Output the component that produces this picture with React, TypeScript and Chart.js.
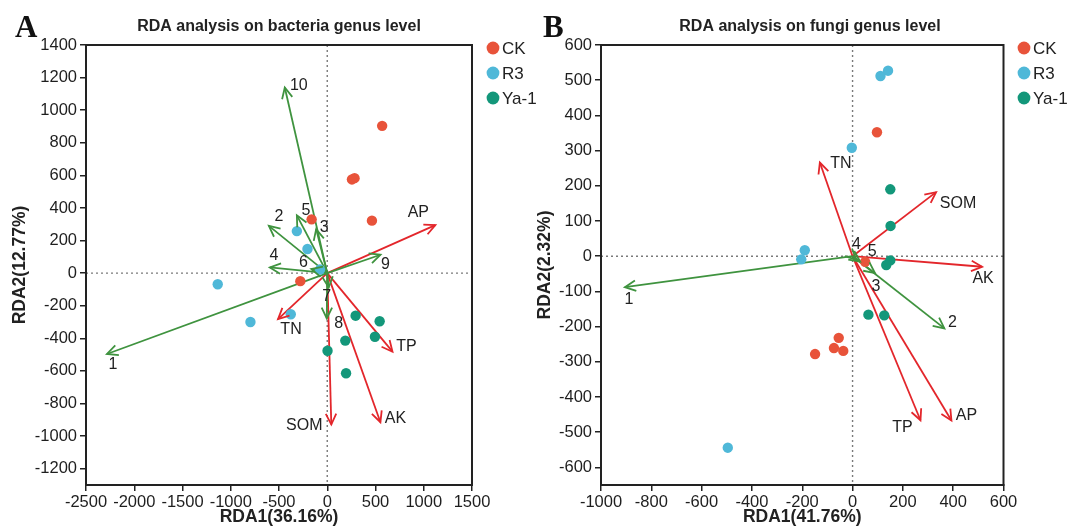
import React, { useEffect, useRef } from "react";
import { Chart, registerables } from "chart.js";
Chart.register(...registerables);

const FONT = "'Liberation Sans', Arial, Helvetica, sans-serif";
Chart.defaults.font.family = FONT;

// ---------- shared ----------
const groupNames = ["CK", "R3", "Ya-1"];
const groupColors = ["#E8533A", "#4FB8D8", "#13977A"];
const envColor = "#E3262B";
const genusColor = "#3F933F";

// ---------- Panel A : bacteria genus level ----------
const bacCK_RDA1 = [569, 283, 256, 463, -162, -279];
const bacCK_RDA2 = [904, 583, 575, 322, 330, -49];
const bacR3_RDA1 = [-315, -205, -75, -1135, -796, -378];
const bacR3_RDA2 = [258, 148, 22, -68, -300, -252];
const bacYa_RDA1 = [294, 543, 494, 187, 3, 195];
const bacYa_RDA2 = [-261, -295, -390, -414, -476, -614];

const bacEnvNames = ["AP", "TN", "TP", "AK", "SOM"];
const bacEnvRDA1 = [1120, -510, 676, 551, 42];
const bacEnvRDA2 = [295, -282, -482, -915, -929];

const bacGenusNames = ["1", "2", "3", "4", "5", "6", "7", "8", "9", "10"];
const bacGenusRDA1 = [-2283, -605, -115, -595, -315, -165, 15, -5, 552, -440];
const bacGenusRDA2 = [-496, 290, 270, 35, 355, 25, -88, -278, 113, 1139];

const bacXTicks = [-2500, -2000, -1500, -1000, -500, 0, 500, 1000, 1500];
const bacYTicks = [-1200, -1000, -800, -600, -400, -200, 0, 200, 400, 600, 800, 1000, 1200, 1400];

// label placement (pixels from arrow tip)
const bacEnvLabelOffsets = [[-17, -12], [13, 10], [14, -5], [15, -4], [-27, 1]];
const bacGenusLabelOffsets = [[6, 11], [10, -9], [8, -2], [4, -12], [9, -5], [-8, -6], [-2, 9], [12, 5], [5, 10], [14, -2]];

// ---------- Panel B : fungi genus level ----------
const funCK_RDA1 = [97, 50, -149, -74, -55, -37];
const funCK_RDA2 = [352, -16, -278, -261, -232, -269];
const funR3_RDA1 = [111, 141, -3, -190, -204, -496];
const funR3_RDA2 = [512, 527, 308, 17, -9, -544];
const funYa_RDA1 = [150, 151, 150, 134, 63, 126];
const funYa_RDA2 = [190, 86, -12, -25, -166, -168];

const funEnvNames = ["TN", "SOM", "AK", "TP", "AP"];
const funEnvRDA1 = [-130, 332, 515, 270, 393];
const funEnvRDA2 = [266, 182, -30, -466, -467];

const funGenusNames = ["1", "2", "3", "4", "5"];
const funGenusRDA1 = [-905, 365, 89, 15, 30];
const funGenusRDA2 = [-88, -205, -48, -10, -15];

const funXTicks = [-1000, -800, -600, -400, -200, 0, 200, 400, 600];
const funYTicks = [-600, -500, -400, -300, -200, -100, 0, 100, 200, 300, 400, 500, 600];

const funEnvLabelOffsets = [[21, 1], [22, 11], [1, 12], [-18, 7], [15, -5]];
const funGenusLabelOffsets = [[4, 12], [8, -6], [1, 13], [0, -15], [12, -10]];

// ---------- plugin ----------
const rdaDecor = {
  id: "rdaDecor",
  beforeDatasetsDraw(chart: any) {
    const { ctx, chartArea: ca, scales } = chart;
    const x0 = scales.x.getPixelForValue(0);
    const y0 = scales.y.getPixelForValue(0);
    ctx.save();
    ctx.strokeStyle = "#7a7a7a";
    ctx.lineWidth = 1.4;
    ctx.setLineDash([2, 3]);
    ctx.beginPath();
    ctx.moveTo(x0, ca.top);
    ctx.lineTo(x0, ca.bottom);
    ctx.moveTo(ca.left, y0);
    ctx.lineTo(ca.right, y0);
    ctx.stroke();
    ctx.restore();
  },
  afterDatasetsDraw(chart: any) {
    const { ctx } = chart;
    ctx.save();
    chart.data.datasets.forEach((ds: any, i: number) => {
      if (!ds.isArrow) return;
      const meta = chart.getDatasetMeta(i);
      const p0 = meta.data[0];
      const p1 = meta.data[1];
      const ang = Math.atan2(p1.y - p0.y, p1.x - p0.x);
      const L = 12;
      const a = 0.45;
      ctx.strokeStyle = ds.borderColor;
      ctx.lineWidth = 1.8;
      ctx.setLineDash([]);
      ctx.beginPath();
      ctx.moveTo(p1.x - L * Math.cos(ang - a), p1.y - L * Math.sin(ang - a));
      ctx.lineTo(p1.x, p1.y);
      ctx.lineTo(p1.x - L * Math.cos(ang + a), p1.y - L * Math.sin(ang + a));
      ctx.stroke();
      ctx.fillStyle = "#222";
      ctx.font = `16px ${FONT}`;
      ctx.textAlign = "center";
      ctx.textBaseline = "middle";
      ctx.fillText(ds.label, p1.x + ds.labelOffset[0], p1.y + ds.labelOffset[1]);
    });
    ctx.restore();
  },
  afterDraw(chart: any, _a: any, o: any) {
    const { ctx, chartArea: ca } = chart;
    ctx.save();
    ctx.strokeStyle = "#222";
    ctx.lineWidth = 2;
    ctx.strokeRect(ca.left, ca.top, ca.right - ca.left, ca.bottom - ca.top);
    // panel letter
    ctx.fillStyle = "#111";
    ctx.font = `bold 31px 'Liberation Serif', 'Times New Roman', serif`;
    ctx.textAlign = "left";
    ctx.textBaseline = "alphabetic";
    ctx.fillText(o.letter, o.letterX, 37);
    // title
    ctx.font = `bold 16px ${FONT}`;
    ctx.textAlign = "center";
    ctx.textBaseline = "middle";
    ctx.fillStyle = "#222";
    ctx.fillText(o.title, o.titleX, 27);
    // legend
    groupNames.forEach((g, i) => {
      const cy = 48 + i * 25;
      ctx.fillStyle = groupColors[i];
      ctx.beginPath();
      ctx.arc(o.legendX, cy, 6.4, 0, Math.PI * 2);
      ctx.fill();
      ctx.fillStyle = "#222";
      ctx.font = `17px ${FONT}`;
      ctx.textAlign = "left";
      ctx.fillText(g, o.legendX + 9, cy + 1);
    });
    ctx.restore();
  },
};

function pts(xs: number[], ys: number[]) {
  return xs.map((x, i) => ({ x, y: ys[i] }));
}

function buildConfig(p: any) {
  const pointSets = p.groups.map((g: any, i: number) => ({
    label: groupNames[i],
    data: pts(g[0], g[1]),
    backgroundColor: groupColors[i],
    borderWidth: 0,
    pointRadius: 5.2,
    pointHoverRadius: 5.2,
    showLine: false,
  }));
  const arrows = (names: string[], xs: number[], ys: number[], offs: number[][], color: string) =>
    names.map((n, i) => ({
      label: n,
      data: [{ x: 0, y: 0 }, { x: xs[i], y: ys[i] }],
      showLine: true,
      borderColor: color,
      borderWidth: 1.8,
      pointRadius: 0,
      isArrow: true,
      labelOffset: offs[i],
    }));
  const envSets = arrows(p.envNames, p.envX, p.envY, p.envOff, envColor);
  const genusSets = arrows(p.genusNames, p.genusX, p.genusY, p.genusOff, genusColor);

  const tickFont = { family: FONT, size: 16.5 };
  const gridCommon = {
    drawOnChartArea: false,
    drawTicks: true,
    tickLength: 6,
    color: "#222",
    lineWidth: 1.5,
  };
  const titleFont = { family: FONT, size: 17.5, weight: "bold" };
  return {
    type: "scatter",
    data: { datasets: [...pointSets, ...genusSets, ...envSets] },
    plugins: [rdaDecor],
    options: {
      responsive: false,
      animation: false,
      events: [],
      layout: { padding: { left: 0, right: p.padRight, top: 45, bottom: 0 } },
      plugins: {
        legend: { display: false },
        tooltip: { enabled: false },
        title: { display: false },
        rdaDecor: { letter: p.letter, letterX: p.letterX, title: p.title, titleX: p.titleX, legendX: p.legendX },
      },
      scales: {
        x: {
          type: "linear",
          min: p.xRange[0],
          max: p.xRange[1],
          afterBuildTicks: (s: any) => {
            s.ticks = p.xTicks.map((v: number) => ({ value: v }));
          },
          afterFit: (s: any) => {
            s.height = 43;
          },
          grid: gridCommon,
          border: { display: true, color: "#222", width: 2 },
          ticks: {
            font: tickFont,
            color: "#1e1e1e",
            padding: 2,
            autoSkip: false,
            maxRotation: 0,
            callback: (v: any) => String(v),
          },
          title: {
            display: true,
            text: p.xTitle,
            color: "#222",
            font: titleFont,
            padding: { top: 0, bottom: 0 },
          },
        },
        y: {
          type: "linear",
          min: p.yRange[0],
          max: p.yRange[1],
          afterBuildTicks: (s: any) => {
            s.ticks = p.yTicks.map((v: number) => ({ value: v }));
          },
          afterFit: (s: any) => {
            s.width = p.yAxisWidth;
          },
          grid: gridCommon,
          border: { display: true, color: "#222", width: 2 },
          ticks: {
            font: tickFont,
            color: "#1e1e1e",
            padding: 3,
            autoSkip: false,
            callback: (v: any) => String(v),
          },
          title: {
            display: true,
            text: p.yTitle,
            color: "#222",
            font: titleFont,
            padding: { top: p.yTitlePad, bottom: 0 },
          },
        },
      },
    },
  };
}

const panelA = {
  letter: "A",
  letterX: 15,
  title: "RDA analysis on bacteria genus level",
  titleX: 279,
  legendX: 493,
  padRight: 88,
  yAxisWidth: 86,
  yTitlePad: 9.5,
  xTitle: "RDA1(36.16%)",
  yTitle: "RDA2(12.77%)",
  xRange: [-2500, 1500],
  yRange: [-1300, 1400],
  xTicks: bacXTicks,
  yTicks: bacYTicks,
  groups: [
    [bacCK_RDA1, bacCK_RDA2],
    [bacR3_RDA1, bacR3_RDA2],
    [bacYa_RDA1, bacYa_RDA2],
  ],
  envNames: bacEnvNames,
  envX: bacEnvRDA1,
  envY: bacEnvRDA2,
  envOff: bacEnvLabelOffsets,
  genusNames: bacGenusNames,
  genusX: bacGenusRDA1,
  genusY: bacGenusRDA2,
  genusOff: bacGenusLabelOffsets,
};

const panelB = {
  letter: "B",
  letterX: 13,
  title: "RDA analysis on fungi genus level",
  titleX: 280,
  legendX: 494,
  padRight: 71.5,
  yAxisWidth: 71,
  yTitlePad: 4.5,
  xTitle: "RDA1(41.76%)",
  yTitle: "RDA2(2.32%)",
  xRange: [-1000, 600],
  yRange: [-650, 600],
  xTicks: funXTicks,
  yTicks: funYTicks,
  groups: [
    [funCK_RDA1, funCK_RDA2],
    [funR3_RDA1, funR3_RDA2],
    [funYa_RDA1, funYa_RDA2],
  ],
  envNames: funEnvNames,
  envX: funEnvRDA1,
  envY: funEnvRDA2,
  envOff: funEnvLabelOffsets,
  genusNames: funGenusNames,
  genusX: funGenusRDA1,
  genusY: funGenusRDA2,
  genusOff: funGenusLabelOffsets,
};

function RdaChart({ panel, left, width }: { panel: any; left: number; width: number }) {
  const ref = useRef<HTMLCanvasElement>(null);
  useEffect(() => {
    const chart = new Chart(ref.current as HTMLCanvasElement, buildConfig(panel) as any);
    return () => chart.destroy();
  }, [panel]);
  return (
    <canvas
      ref={ref}
      width={width}
      height={528}
      style={{ position: "absolute", left, top: 0, width, height: 528 }}
    />
  );
}

export default function App() {
  return (
    <div style={{ position: "absolute", left: 0, top: 0, width: 1075, height: 528, background: "#fff" }}>
      <RdaChart panel={panelA} left={0} width={560} />
      <RdaChart panel={panelB} left={530} width={545} />
    </div>
  );
}
